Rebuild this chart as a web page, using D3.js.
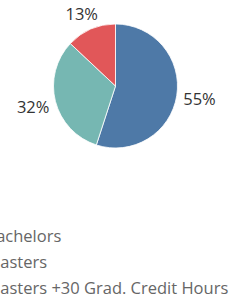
<!DOCTYPE html>
<html>
<head>
<meta charset="utf-8">
<script src="https://cdn.jsdelivr.net/npm/d3@7"></script>
<style>
  html, body { margin: 0; padding: 0; background: #fff; overflow: hidden; }
  svg { display: block; }
</style>
</head>
<body>
<svg id="chart" width="241" height="304"></svg>
<script>
const categories = ["Bachelors", "Masters", "Masters +30 Grad. Credit Hours"];
const values = [55, 32, 13];
const labels = ["55%", "32%", "13%"];
const colors = ["#4e79a7", "#76b7b2", "#e15759"];

const svg = d3.select("#chart");
const cx = 115.5, cy = 86, r = 62, labelR = 85;
const font = "'Open Sans', sans-serif";
const fs = 16.5;

const pie = d3.pie().sort(null).value(d => d.value);
const arcs = pie(categories.map((c, i) => ({ cat: c, value: values[i], label: labels[i], color: colors[i] })));
const arc = d3.arc().innerRadius(0).outerRadius(r);
const labelArc = d3.arc().innerRadius(labelR).outerRadius(labelR);

const g = svg.append("g").attr("transform", `translate(${cx},${cy})`);
g.selectAll("path").data(arcs).join("path")
  .attr("d", arc)
  .attr("fill", d => d.data.color)
  .attr("stroke", "#fff")
  .attr("stroke-width", 0.8);

// keep labels inside the top edge of the view
const minCenterY = -cy + fs * 0.5 + 6;
g.selectAll("text").data(arcs).join("text")
  .attr("transform", d => {
    const c = labelArc.centroid(d);
    return `translate(${c[0]},${Math.max(c[1], minCenterY)})`;
  })
  .attr("text-anchor", "middle")
  .attr("dy", "0.35em")
  .attr("font-family", font)
  .attr("font-size", fs)
  .attr("fill", "#333")
  .text(d => d.data.label);

const y = d3.scalePoint().domain(categories).range([242, 294]);
const leg = svg.append("g");
const items = leg.selectAll("g").data(categories).join("g")
  .attr("transform", d => `translate(0,${y(d)})`);
items.append("rect")
  .attr("x", -32).attr("y", -10).attr("width", 10).attr("height", 10)
  .attr("fill", (d, i) => colors[i]);
items.append("text")
  .attr("x", -14.5)
  .attr("font-family", font)
  .attr("font-size", fs)
  .attr("fill", "#666")
  .text(d => d);
</script>
</body>
</html>
